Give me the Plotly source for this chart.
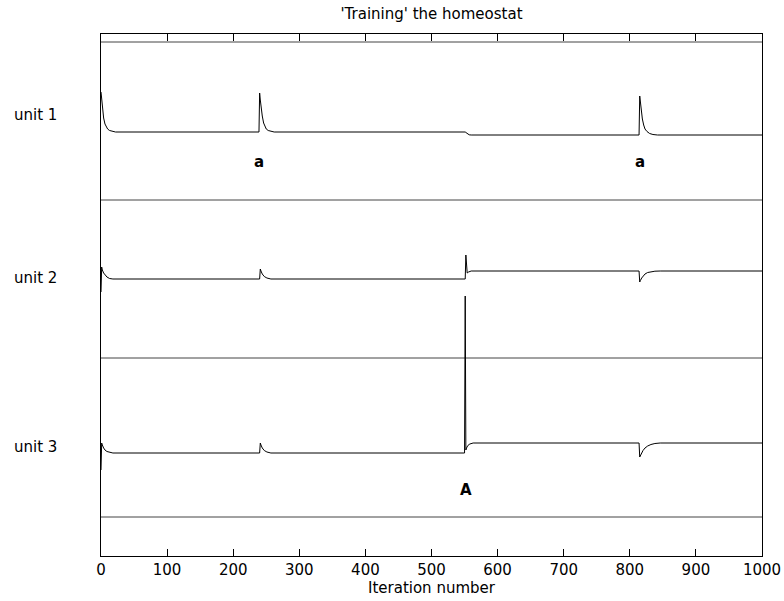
import plotly.graph_objects as go

# Vertical values are heights above the bottom of the plot frame (frame height = 522)
PLOT_H = 522

# unit 1 trace (iteration, level)
u1_x = [0, 1, 2, 3, 4, 6, 8, 10, 13, 17, 22, 239, 240, 241, 242, 243, 244, 246, 248, 250, 253, 257, 262,
        551, 553, 555, 557, 560,
        814, 815, 816, 817, 818, 819, 821, 823, 826, 830, 835, 842, 1000]
u1_y = [464, 456, 449, 443, 438, 432, 429, 427, 425.5, 424.5, 424, 424, 463, 456, 449, 444, 440, 433, 429, 427, 425.5, 424.5, 424,
        424, 423, 421.8, 421.2, 421,
        421, 460, 453, 446, 441, 437, 431, 427, 424.5, 422.5, 421.5, 421, 421]

# unit 2 trace
u2_x = [0, 1, 2, 4, 6, 9, 13, 18, 240, 241, 242, 244, 247, 251, 257, 551, 552, 553, 554, 556, 560,
        814, 815, 816, 818, 820, 823, 827, 832, 838, 846, 1000]
u2_y = [264, 289, 286, 283, 281, 279, 277.5, 277, 277, 287, 285, 282, 279.5, 278, 277, 277, 301, 285, 283, 284, 285,
        285, 274, 275.5, 278, 280, 282, 283.5, 284.3, 284.8, 285, 285]

# unit 3 trace
u3_x = [0, 1, 2, 4, 6, 9, 13, 18, 240, 241, 242, 244, 247, 251, 257, 550, 551, 552, 553, 555, 558, 563,
        814, 815, 816, 818, 820, 823, 827, 832, 838, 846, 1000]
u3_y = [86, 113, 111, 108, 106, 104.5, 103.5, 103, 103, 113, 111, 108, 105.5, 104, 103, 103, 260, 106, 108, 110.5, 112, 113,
        113, 99, 100.5, 103, 105.5, 108, 110, 111.5, 112.5, 113, 113]

# separator levels
separators = [514, 356, 198, 39]

unit_labels = ["unit 1", "unit 2", "unit 3"]
unit_label_y = [441, 278, 109]

marks = ["a", "a", "A"]
mark_x = [239, 815, 552]
mark_y = [394, 394, 66]

x_ticks = list(range(0, 1001, 100))

FONT = "DejaVu Sans, Liberation Sans, Arial, sans-serif"
FS = 15

fig = go.Figure()
for s in separators:
    fig.add_trace(go.Scatter(x=[0, 1000], y=[s, s], mode="lines",
                             line=dict(color="#444444", width=1), hoverinfo="skip"))
for xs, ys in [(u1_x, u1_y), (u2_x, u2_y), (u3_x, u3_y)]:
    fig.add_trace(go.Scatter(x=xs, y=ys, mode="lines",
                             line=dict(color="black", width=1)))

for t, yv in zip(unit_labels, unit_label_y):
    fig.add_annotation(text=t, xref="paper", yref="y", x=(35 - 101) / 661, y=yv,
                       xanchor="center", yanchor="middle", showarrow=False,
                       font=dict(family=FONT, size=FS, color="black"))
for t, xv, yv in zip(marks, mark_x, mark_y):
    fig.add_annotation(text="<b>" + t + "</b>", x=xv, y=yv, xref="x", yref="y",
                       xanchor="center", yanchor="middle", showarrow=False,
                       font=dict(family=FONT, size=FS, color="black"))

# x-axis title as annotation for precise placement
fig.add_annotation(text="Iteration number", xref="paper", yref="paper",
                   x=0.5, y=-(588 - 556) / 522, xanchor="center", yanchor="middle",
                   showarrow=False, font=dict(family=FONT, size=FS, color="black"))

fig.update_layout(
    width=784, height=601,
    margin=dict(l=101, r=22, t=34, b=45),
    paper_bgcolor="white", plot_bgcolor="white",
    showlegend=False,
    font=dict(family=FONT, size=FS, color="black"),
    title=dict(text="'Training' the homeostat", x=431.5 / 784, xanchor="center",
               y=1 - 14 / 601, yanchor="middle", yref="container",
               font=dict(family=FONT, size=FS, color="black"), automargin=False),
    xaxis=dict(range=[0, 1000], tickvals=x_ticks, ticks="inside", ticklen=7,
               tickcolor="black", showline=True, linecolor="black", linewidth=1,
               mirror="ticks", showgrid=False, zeroline=False, automargin=False,
               tickfont=dict(family=FONT, size=FS)),
    yaxis=dict(range=[0, PLOT_H], showticklabels=False, ticks="", showline=True,
               linecolor="black", linewidth=1, mirror=True, showgrid=False,
               zeroline=False, automargin=False),
)

fig.write_html("out.html")
